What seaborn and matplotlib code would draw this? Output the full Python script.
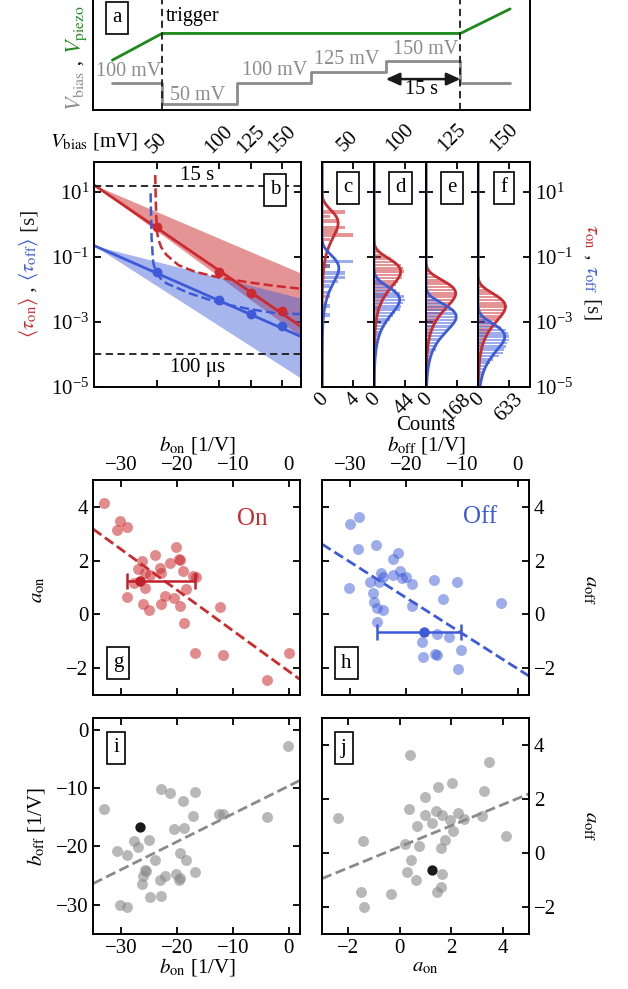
import numpy as np
import matplotlib
matplotlib.use('Agg')
import matplotlib.pyplot as plt
import seaborn as sns

sns.set_theme(style='ticks')
plt.rcParams['font.family'] = ['Liberation Serif', 'DejaVu Serif']
plt.rcParams['mathtext.fontset'] = 'stix'
plt.rcParams.update({
    'xtick.direction': 'in', 'ytick.direction': 'in',
    'xtick.major.size': 5, 'ytick.major.size': 5,
    'xtick.major.width': 1.3, 'ytick.major.width': 1.3,
    'xtick.minor.size': 0, 'ytick.minor.size': 0,
    'axes.linewidth': 1.4, 'axes.edgecolor': 'black',
    'xtick.color': 'black', 'ytick.color': 'black',
    'font.size': 15, 'xtick.labelsize': 15, 'ytick.labelsize': 15,
    'axes.labelsize': 15, 'text.color': 'black', 'axes.labelcolor': 'black',
    'axes.facecolor': 'white', 'axes.grid': False,
})

RED = '#cc2a2f'
DRED = '#c0202a'
BLUE = '#3d5bd8'
GREEN = '#1b8a1b'
GRAY = '#8c8c8c'

# ---------------- data ----------------
# panel a (schematic of the protocol)
t_bias = [-10, 0, 15, 30, 45, 60, 70]
v_bias = [100, 50, 100, 125, 150, 100, 100]
t_piezo = [-10, 0, 60, 70]
v_piezo = [153, 215, 215, 272]

# panel b
v_steps = [50, 100, 125, 150]
tau_on_mean = [0.85, 0.034, 0.0079, 0.00224]
tau_off_mean = [0.034, 0.0046, 0.00178, 0.00073]
on_fit = dict(log0=1.215, slope=-0.0264, slope_hi=-0.01645, slope_lo=-0.02827)
off_fit = dict(log0=-0.65, slope=-0.01697, slope_hi=-0.00982, slope_lo=-0.02473)
fit_v_range = [0, 165]
on_dash_v = [48.8, 49.3, 50.2, 51.5, 53.5, 57.8, 67.3, 80.5, 100.4, 123, 144, 165]
on_dash_tau = [33, 4.0, 0.60, 0.33, 0.20, 0.115, 0.056, 0.035, 0.023, 0.0166, 0.0129, 0.0105]
off_dash_v = [45.1, 45.9, 47.1, 48.5, 49.8, 53.0, 57.7, 76.2, 101.4, 123.8, 144.9, 165]
off_dash_tau = [9.1, 0.38, 0.072, 0.042, 0.032, 0.022, 0.0155, 0.0076, 0.0037, 0.0025, 0.00186, 0.00174]
limit_times = [15, 1e-4]

# panels c-f: histograms of log10(tau) (bin centres) and counts
c_red_log = [0.375, 0.24, 0.11, -0.09, -0.20, -0.33, -0.47, -1.28, -2.22]
c_red_cnt = [3, 1, 2, 3, 2, 4, 1, 1, 1]
c_blue_log = [-1.14, -1.28, -1.50, -1.63, -1.76, -1.89, -2.10, -2.51, -2.78]
c_blue_cnt = [4, 1, 3, 3, 2, 1, 1, 1, 1]

d_red_start, d_blue_start = -0.75, -1.62
d_red_cnt = [4, 9, 15, 24, 31, 38, 41, 42, 40, 39, 34, 31, 26, 23, 19, 16, 13, 11, 8, 7, 6, 4, 4, 3, 2, 2, 1, 1]
d_blue_cnt = [4, 8, 15, 23, 31, 37, 42, 44, 41, 38, 36, 30, 27, 22, 18, 16, 13, 10, 9, 7, 5, 4, 3, 3, 2, 2, 1, 1]
e_red_start, e_blue_start = -1.42, -2.14
e_red_cnt = [14, 32, 58, 88, 118, 140, 155, 160, 156, 146, 132, 116, 100, 85, 71, 59, 48, 39, 32, 26, 21, 17, 13, 11, 9, 7, 5, 4]
e_blue_cnt = [15, 34, 61, 93, 124, 148, 163, 168, 164, 153, 139, 122, 105, 90, 75, 62, 58, 55, 34, 27, 22, 18, 14, 11, 9, 7, 5, 4]
f_red_start, f_blue_start = -1.83, -2.75
f_red_cnt = [53, 117, 211, 322, 428, 512, 564, 580, 566, 529, 479, 422, 363, 308, 258, 214, 175, 143, 115, 93, 75, 60, 48, 39, 31, 25, 20, 16]
f_blue_cnt = [57, 128, 230, 351, 467, 559, 615, 633, 618, 577, 560, 520, 500, 420, 300, 233, 191, 156, 126, 101, 81, 66, 52, 42, 34, 27, 21, 17]
hist_bin = 0.1
count_max = [4, 44, 168, 633]
bias_titles = ['50', '100', '125', '150']
# exponential dwell-time fits in log space: (log10 tau0, peak count)
fit_red = [(0.04, 2.06), (-1.45, 37.4), (-2.12, 159), (-2.53, 553)]
fit_blue = [(-1.35, 2.15), (-2.32, 36), (-2.84, 162), (-3.45, 540)]

# panel g (On)
g_b_on = [-33.09, -30.23, -30.70, -28.91, -26.17, -26.94, -23.84, -25.75, -24.85, -22.94, -22.77, -21.27,
          -20.20, -19.60, -19.36, -18.89, -17.10, -16.62, -18.29, -20.56, -22.17, -19.48, -22.89, -26.05,
          -24.97, -25.75, -27.72, -28.91, -18.77, -12.32, -16.68, -11.72, -3.97, 0.1]
g_a_on = [4.13, 3.47, 3.14, 3.25, 1.99, 1.68, 2.22, 1.55, 1.47, 1.74, 1.55, 1.90,
          2.49, 2.05, 2.02, 1.60, 1.43, 1.39, 0.94, 0.61, 0.70, 0.32, 0.37, 0.40,
          0.16, 0.97, 1.18, 0.66, -0.33, 0.26, -1.42, -1.51, -2.44, -1.45]
# panel h (Off)
h_b_off = [-30.07, -28.35, -28.65, -25.38, -22.35, -21.40, -21.04, -20.75, -19.97, -22.35, -24.49, -24.13,
           -24.79, -26.39, -18.96, -30.25, -25.91, -25.68, -25.08, -24.01, -18.85, -14.99, -10.95, -13.44,
           -3.05, -25.08, -17.06, -14.39, -12.31, -10.11, -16.88, -14.81, -14.51, -10.65]
h_a_off = [3.36, 3.61, 2.43, 2.58, 2.05, 2.27, 1.63, 1.37, 1.39, 1.45, 1.53, 1.40,
           1.22, 1.22, 1.12, 0.98, 0.78, 0.47, 0.23, 0.16, 0.32, 1.28, 1.19, 0.59,
           0.44, -0.28, -1.01, -0.74, -0.83, -1.32, -1.57, -1.49, -1.51, -2.03]
# panel i
i_b_on = [-33.10, -30.72, -28.93, -27.74, -26.97, -25.0, -25.78, -26.08, -26.20, -25.60, -23.88, -22.80,
          -21.32, -20.60, -18.94, -18.82, -18.34, -19.53, -20.25, -19.42, -19.65, -22.21, -23.11, -22.93,
          -24.77, -30.24, -28.93, -16.68, -17.04, -16.74, -12.40, -11.80, -3.95, -0.21]
i_b_off = [-13.53, -20.84, -21.41, -19.01, -20.04, -18.90, -24.10, -25.12, -26.38, -24.27, -22.38, -10.16,
           -10.85, -17.07, -12.28, -16.90, -22.38, -21.13, -24.72, -25.41, -25.81, -25.0, -25.69, -28.43,
           -28.72, -30.09, -30.37, -10.73, -14.73, -24.44, -14.39, -14.39, -14.96, -2.85]
# panel j
j_a_on = [-2.40, -1.43, -1.50, -1.37, -0.34, 0.40, 0.36, 0.21, 0.43, 0.27, 0.63, 0.66, 0.73, 0.98, 0.98,
          1.24, 1.40, 1.49, 1.65, 1.58, 1.75, 1.65, 1.58, 1.46, 1.94, 2.01, 2.07, 2.24, 2.50, 3.17, 3.25,
          3.46, 4.13]
j_a_off = [1.30, 0.46, -1.46, -2.0, -1.52, 3.62, 1.63, 0.35, -0.27, -0.70, -0.99, 0.99, 0.27, 2.06, 1.42,
           1.11, 1.57, 2.44, 1.40, 0.19, 0.49, -0.78, -1.27, -1.44, 1.23, 2.59, 0.83, 1.48, 1.26, 1.38, 2.28,
           3.37, 0.62]
# mean device and its spread
mean_b_on, mean_a_on = -26.6, 1.25
mean_b_off, mean_a_off = -16.75, -0.64
b_on_range = [-28.9, -16.7]
b_off_range = [-25.1, -10.1]
# linear correlations (slope, intercept)
fit_g = (-0.1514, -2.12)
fit_h = (-0.1327, -2.03)
fit_i = (0.478, -9.64)
fit_j = (0.3925, 0.23)

# ---------------- figure ----------------
W, H = 628, 989
fig = plt.figure(figsize=(W / 100, H / 100), dpi=100)


def box(x0, y0, x1, y1):
    return [x0 / W, 1 - y1 / H, (x1 - x0) / W, (y1 - y0) / H]


def ftxt(x, y, s, **kw):
    return fig.text(x / W, 1 - y / H, s, **kw)


def panel_label(x, y, s):
    ftxt(x, y, s, ha='center', va='center', fontsize=15, zorder=20,
         bbox=dict(boxstyle='square,pad=0.3', fc='white', ec='black', lw=1.2))


def stacked(anchor_ax, parts, x, y, rotation, fontsize):
    xf = x / W
    prev = fig.text(xf, 1 - y / H, parts[0][0], color=parts[0][1], rotation=rotation,
                    rotation_mode='anchor', ha='left', va='baseline', fontsize=fontsize)
    yrel = 1 if rotation == 90 else 0
    for s, c in parts[1:]:
        prev = anchor_ax.annotate(s, xy=(xf, yrel), xycoords=(fig.transFigure, prev), color=c,
                                  rotation=rotation, rotation_mode='anchor', ha='left',
                                  va='baseline', fontsize=fontsize, annotation_clip=False)


# ---- panel a ----
ax_a = fig.add_axes(box(93, -4, 530, 110))
sns.lineplot(x=t_bias, y=v_bias, ax=ax_a, color=GRAY, lw=2.0, drawstyle='steps-post',
             estimator=None, sort=False)
sns.lineplot(x=t_piezo, y=v_piezo, ax=ax_a, color=GREEN, lw=2.0, estimator=None, sort=False)
for tt in [0, 60]:
    ax_a.axvline(tt, color='k', ls=(0, (4, 2.5)), lw=1.3)
ax_a.annotate('', xy=(60, 109), xytext=(45, 109),
              arrowprops=dict(arrowstyle='<|-|>,head_length=0.55,head_width=0.25', color='k',
                              lw=1.8, shrinkA=0, shrinkB=0))
ax_a.set_xlim(-13.9, 74)
ax_a.set_ylim(37.2, 302)
ax_a.set_xticks([])
ax_a.set_yticks([])
for tx, ty, s in [(-6.8, 125.6, '100 mV'), (7.2, 72, '50 mV'), (22.6, 128, '100 mV'),
                  (37.2, 153.5, '125 mV'), (53, 176.7, '150 mV')]:
    ax_a.text(tx, ty, s, color=GRAY, ha='center', va='center', fontsize=14.5)
ax_a.text(52.2, 83.7, '15 s', ha='center', va='center', fontsize=14.5)
ax_a.text(0.7, 253.5, 'trigger', ha='left', va='center', fontsize=14.5)
panel_label(117, 18, 'a')
stacked(ax_a, [(r'$V_{\mathrm{bias}}$', GRAY), (' , ', 'k'), (r'$V_{\mathrm{piezo}}$', GREEN)],
        81, 111, 90, 16)

# ---- panel b ----
ax_b = fig.add_axes(box(94, 162, 301, 387))
ax_b.set_yscale('log')
vv = np.array(fit_v_range, dtype=float)
for fit, col, a in [(on_fit, RED, 0.5), (off_fit, BLUE, 0.45)]:
    ax_b.fill_between(vv, 10 ** (fit['log0'] + fit['slope_hi'] * vv),
                      10 ** (fit['log0'] + fit['slope_lo'] * vv), color=col, alpha=a, lw=0)
for fit, col in [(on_fit, RED), (off_fit, BLUE)]:
    sns.lineplot(x=vv, y=10 ** (fit['log0'] + fit['slope'] * vv), ax=ax_b, color=col, lw=2.0,
                 estimator=None, sort=False)
sns.lineplot(x=on_dash_v, y=on_dash_tau, ax=ax_b, color=RED, lw=1.8, ls='--', estimator=None, sort=False)
sns.lineplot(x=off_dash_v, y=off_dash_tau, ax=ax_b, color=BLUE, lw=1.8, ls='--', estimator=None, sort=False)
sns.scatterplot(x=v_steps, y=tau_on_mean, ax=ax_b, color=RED, s=50, linewidth=0, zorder=5)
sns.scatterplot(x=v_steps, y=tau_off_mean, ax=ax_b, color=BLUE, s=50, linewidth=0, zorder=5)
for lt in limit_times:
    ax_b.axhline(lt, color='k', ls=(0, (4, 2.5)), lw=1.3)
ax_b.text(0.5, 15 * 1.05, '15 s', ha='center', va='bottom', fontsize=15,
          transform=ax_b.get_yaxis_transform(), zorder=6)
ax_b.text(0.5, 1e-4 / 1.12, r'100 $\mathrm{\mu}$s', ha='center', va='top', fontsize=15,
          transform=ax_b.get_yaxis_transform())
ax_b.set_xlim(0, 165)
ax_b.set_ylim(1e-5, 10 ** 1.92)
ax_b.set_xticks(v_steps)
ax_b.set_xticklabels([str(v) for v in v_steps])
ax_b.tick_params(axis='x', top=True, bottom=True, labeltop=True, labelbottom=False, labelrotation=45, pad=3)
ax_b.set_yticks([1e1, 1e-1, 1e-3, 1e-5])
ax_b.yaxis.set_minor_locator(matplotlib.ticker.NullLocator())
ax_b.tick_params(axis='y', left=True, right=True)
ftxt(138, 141, r'$V_{\mathrm{bias}}$ [mV]', ha='right', va='center', fontsize=15)
panel_label(275, 190, 'b')
stacked(ax_b, [(r'$\langle\tau_{\mathrm{on}}\rangle$', RED), (' , ', 'k'),
               (r'$\langle\tau_{\mathrm{off}}\rangle$', BLUE), (' [s]', 'k')], 34, 338, 90, 15)

# ---- panels c-f ----
hist_red = [(c_red_log, c_red_cnt),
            (list(d_red_start - hist_bin * np.arange(len(d_red_cnt))), d_red_cnt),
            (list(e_red_start - hist_bin * np.arange(len(e_red_cnt))), e_red_cnt),
            (list(f_red_start - hist_bin * np.arange(len(f_red_cnt))), f_red_cnt)]
hist_blue = [(c_blue_log, c_blue_cnt),
             (list(d_blue_start - hist_bin * np.arange(len(d_blue_cnt))), d_blue_cnt),
             (list(e_blue_start - hist_bin * np.arange(len(e_blue_cnt))), e_blue_cnt),
             (list(f_blue_start - hist_bin * np.arange(len(f_blue_cnt))), f_blue_cnt)]
lefts = [322, 374, 426, 478]
letters = ['c', 'd', 'e', 'f']
lg = np.linspace(-6, 2.5, 600)
for k in range(4):
    ax = fig.add_axes(box(lefts[k], 162, lefts[k] + 52, 387))
    ax.set_yscale('log')
    thick = 0.11 if k == 0 else 0.075
    for (logs, cnts), col in [(hist_red[k], RED), (hist_blue[k], BLUE)]:
        logs = np.array(logs)
        lo = 10 ** (logs - thick / 2)
        hi = 10 ** (logs + thick / 2)
        ax.barh(lo, cnts, height=hi - lo, align='edge', color=col, alpha=0.5, lw=0)
    for (x0, amp), col in [(fit_red[k], RED), (fit_blue[k], BLUE)]:
        u = 10 ** (lg - x0)
        sns.lineplot(x=amp * np.e * u * np.exp(-u), y=10 ** lg, ax=ax, color=col, lw=2.0,
                     estimator=None, sort=False)
    ax.set_xlim(0, count_max[k] * 1.66)
    ax.set_ylim(1e-5, 10 ** 1.92)
    ax.set_xticks([0, count_max[k]])
    ax.set_xticklabels(['0', str(count_max[k])])
    ax.tick_params(axis='x', top=True, bottom=True, labelrotation=45, pad=2)
    ax.set_yticks([1e1, 1e-1, 1e-3, 1e-5])
    ax.yaxis.set_minor_locator(matplotlib.ticker.NullLocator())
    ax.tick_params(axis='y', left=True, right=True, labelleft=False, labelright=(k == 3))
    ax.text(0.5, 1.03, bias_titles[k], transform=ax.transAxes, rotation=45, ha='center',
            va='bottom', fontsize=15)
    panel_label(lefts[k] + 26, 188, letters[k])
    if k == 3:
        stacked(ax, [(r'$\tau_{\mathrm{on}}$', RED), (' , ', 'k'),
                     (r'$\tau_{\mathrm{off}}$', BLUE), (' [s]', 'k')], 587, 224, -90, 15)
ftxt(426, 425, 'Counts', ha='center', va='center', fontsize=15)


def scatter_panel(rect, xs, ys, color, alpha, fit, xlim, ylim):
    ax = fig.add_axes(rect)
    sns.scatterplot(x=xs, y=ys, ax=ax, color=color, alpha=alpha, s=62, linewidth=0)
    xx = np.array(xlim, dtype=float)
    sns.lineplot(x=xx, y=fit[0] * xx + fit[1], ax=ax, color=color, lw=2.0, ls='--',
                 estimator=None, sort=False, alpha=1)
    ax.set_xlim(*xlim)
    ax.set_ylim(*ylim)
    ax.tick_params(axis='both', top=True, bottom=True, left=True, right=True)
    return ax


# ---- panel g ----
ax_g = scatter_panel(box(93, 480, 300, 695), g_b_on, g_a_on, RED, 0.55, fit_g, (-35, 2), (-3, 5))
ax_g.errorbar([mean_b_on], [mean_a_on],
              xerr=[[mean_b_on - b_on_range[0]], [b_on_range[1] - mean_b_on]],
              fmt='o', color=DRED, ms=6.5, lw=1.8, capsize=6, capthick=1.8, zorder=6)
ax_g.set_xticks([-30, -20, -10, 0])
ax_g.set_yticks([-2, 0, 2, 4])
ax_g.tick_params(labeltop=True, labelbottom=False)
ax_g.text(-6.6, 3.55, 'On', color=RED, fontsize=18, ha='center', va='center')
panel_label(118, 663, 'g')
ftxt(197, 445, r'$b_{\mathrm{on}}$ [1/V]', ha='center', va='center')
ftxt(38, 590, r'$a_{\mathrm{on}}$', ha='center', va='center', rotation=90)

# ---- panel h ----
ax_h = scatter_panel(box(322, 480, 529, 695), h_b_off, h_a_off, BLUE, 0.5, fit_h, (-35, 2), (-3, 5))
ax_h.errorbar([mean_b_off], [mean_a_off],
              xerr=[[mean_b_off - b_off_range[0]], [b_off_range[1] - mean_b_off]],
              fmt='o', color=BLUE, ms=6.5, lw=1.8, capsize=6, capthick=1.8, zorder=6)
ax_h.set_xticks([-30, -20, -10, 0])
ax_h.set_yticks([-2, 0, 2, 4])
ax_h.tick_params(labeltop=True, labelbottom=False, labelleft=False, labelright=True)
ax_h.text(-6.8, 3.62, 'Off', color=BLUE, fontsize=18, ha='center', va='center')
panel_label(346, 663, 'h')
ftxt(427, 445, r'$b_{\mathrm{off}}$ [1/V]', ha='center', va='center')
ftxt(590, 590, r'$a_{\mathrm{off}}$', ha='center', va='center', rotation=-90)

# ---- panel i ----
ax_i = scatter_panel(box(93, 718, 300, 934), i_b_on, i_b_off, '#8a8a8a', 0.6, fit_i, (-35, 2), (-35, 2))
sns.scatterplot(x=[mean_b_on], y=[mean_b_off], ax=ax_i, color='k', s=55, linewidth=0, zorder=6)
ax_i.set_xticks([-30, -20, -10, 0])
ax_i.set_yticks([-30, -20, -10, 0])
panel_label(116, 748, 'i')
ftxt(197, 967, r'$b_{\mathrm{on}}$ [1/V]', ha='center', va='center')
ftxt(36, 826, r'$b_{\mathrm{off}}$ [1/V]', ha='center', va='center', rotation=90)

# ---- panel j ----
ax_j = scatter_panel(box(322, 718, 529, 934), j_a_on, j_a_off, '#8a8a8a', 0.6, fit_j, (-3, 5), (-3, 5))
sns.scatterplot(x=[mean_a_on], y=[mean_a_off], ax=ax_j, color='k', s=55, linewidth=0, zorder=6)
ax_j.set_xticks([-2, 0, 2, 4])
ax_j.set_yticks([-2, 0, 2, 4])
ax_j.tick_params(labelleft=False, labelright=True)
panel_label(344, 748, 'j')
ftxt(425, 967, r'$a_{\mathrm{on}}$', ha='center', va='center')
ftxt(590, 826, r'$a_{\mathrm{off}}$', ha='center', va='center', rotation=-90)

fig.savefig('out.png', dpi=100)
